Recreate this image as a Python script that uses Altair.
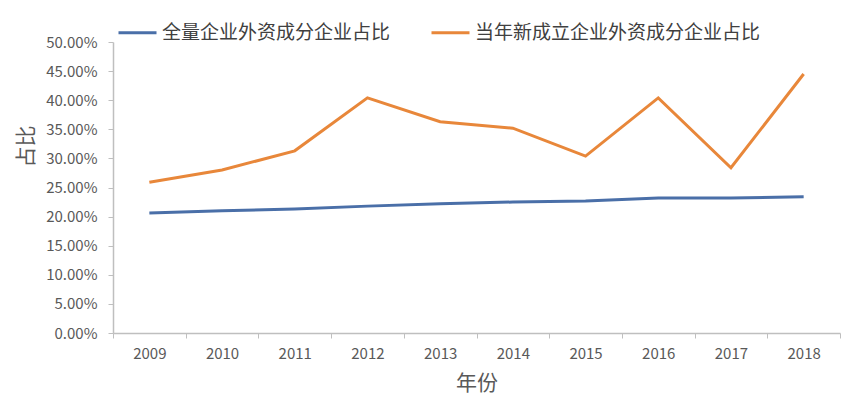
import altair as alt
import pandas as pd

years = ["2009", "2010", "2011", "2012", "2013", "2014", "2015", "2016", "2017", "2018"]
series_names = ["全量企业外资成分企业占比", "当年新成立企业外资成分企业占比"]
total_share = [0.206, 0.210, 0.213, 0.218, 0.222, 0.225, 0.227, 0.232, 0.232, 0.234]
new_share = [0.259, 0.280, 0.313, 0.404, 0.363, 0.352, 0.304, 0.404, 0.284, 0.445]
y_ticks = [i * 0.05 for i in range(11)]

rows = []
for y, a, b in zip(years, total_share, new_share):
    rows.append({"年份": y, "系列": series_names[0], "占比": a})
    rows.append({"年份": y, "系列": series_names[1], "占比": b})
df = pd.DataFrame(rows)

font = "Noto Sans CJK SC"
gray = "#595959"

lines = alt.Chart(df).mark_line(strokeWidth=3).encode(
    x=alt.X("年份:N", sort=years,
            scale=alt.Scale(paddingInner=0, paddingOuter=0),
            axis=alt.Axis(title="年份", labelAngle=0, tickBand="extent",
                          labelFontSize=15, titleFontSize=21, labelPadding=8,
                          titlePadding=11, tickSize=5)),
    y=alt.Y("占比:Q", scale=alt.Scale(domain=[0, 0.5], nice=False),
            axis=alt.Axis(title="占比", format=".2%", values=y_ticks, grid=False,
                          labelFontSize=15, titleFontSize=21, labelPadding=11,
                          titlePadding=9, titleY=104, tickSize=5)),
    color=alt.Color("系列:N", sort=series_names,
                    scale=alt.Scale(domain=series_names, range=["#4A6FA8", "#E8873A"]),
                    legend=alt.Legend(title=None, orient="none", legendX=4, legendY=-30,
                                      direction="horizontal", symbolType="stroke",
                                      symbolStrokeWidth=3, symbolSize=1444,
                                      labelFontSize=19, labelColor="#404040",
                                      labelLimit=400, columnPadding=34, labelOffset=4)),
)

chart = lines.properties(
    width=727, height=291,
    autosize=alt.AutoSizeParams(type="none"),
    padding={"left": 105, "top": 34, "right": 16, "bottom": 64},
).configure(font=font).configure_axis(
    labelColor=gray, titleColor=gray, domainColor="#BFBFBF", tickColor="#BFBFBF",
    labelFont=font, titleFont=font, titleFontWeight="normal", domainWidth=1.5,
).configure_view(stroke=None).configure_legend(labelFont=font)

chart.save("out.html", embed_options={"renderer": "svg", "actions": False})
